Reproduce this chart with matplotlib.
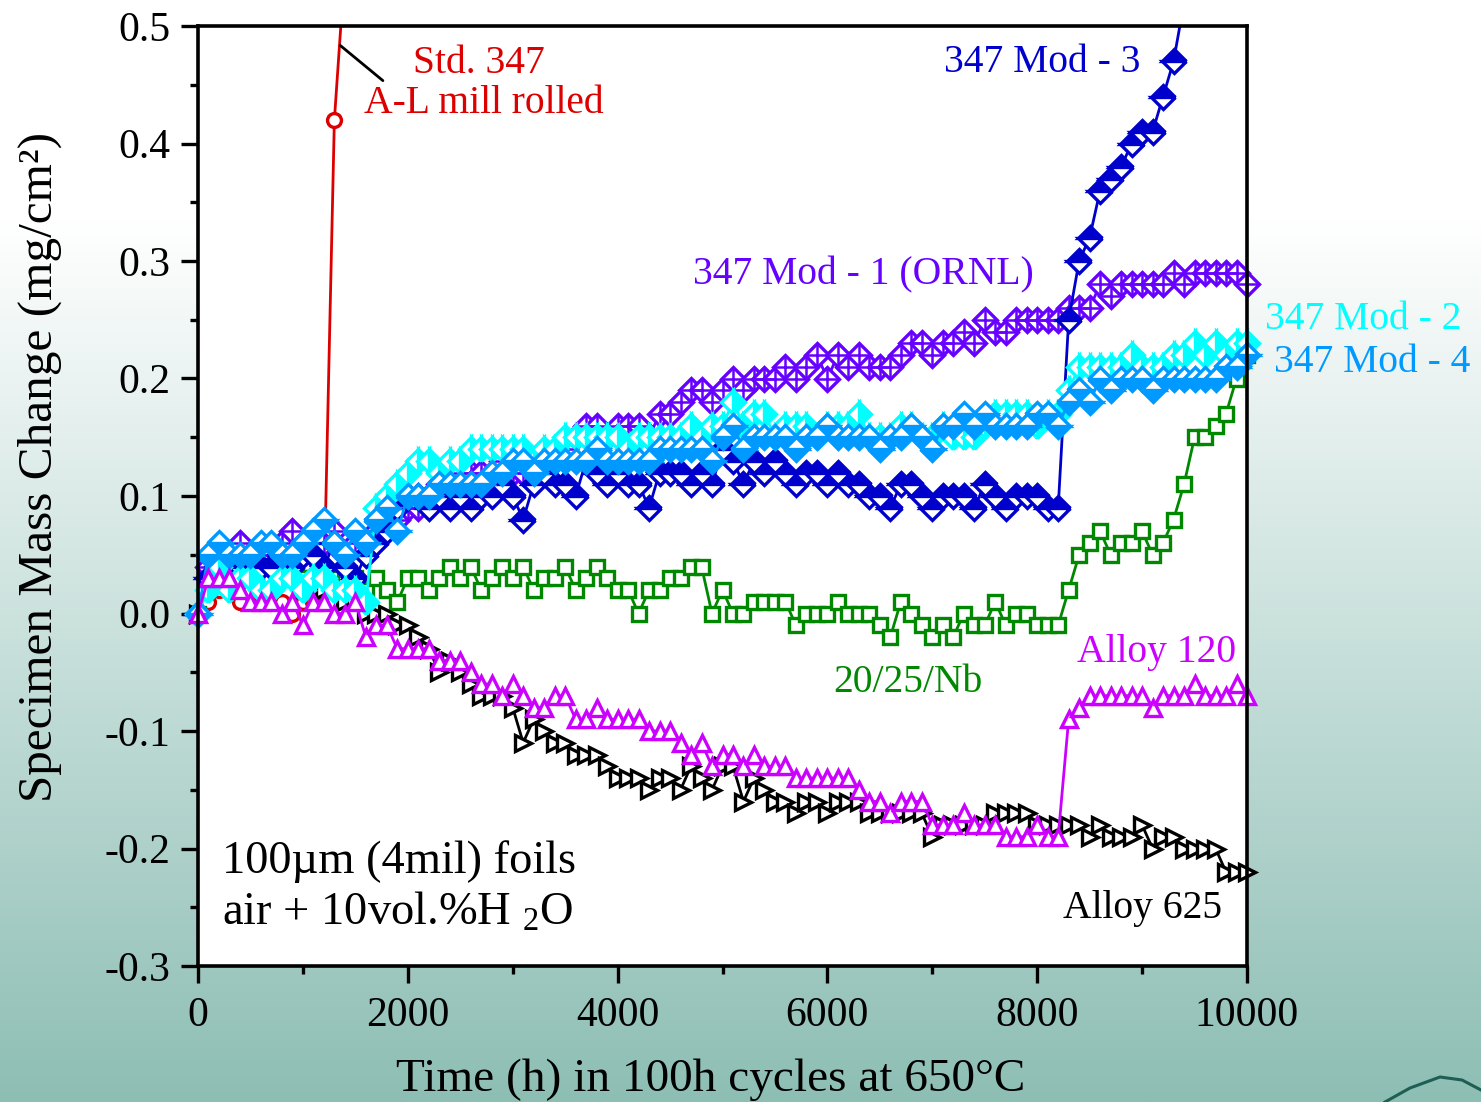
import numpy as np
import matplotlib
matplotlib.use("Agg")
import matplotlib.pyplot as plt
from matplotlib.patches import Rectangle
from matplotlib.lines import Line2D
from matplotlib.ticker import MultipleLocator

plt.rcParams['font.family'] = ['Liberation Serif', 'DejaVu Serif']
plt.rcParams['mathtext.fontset'] = 'custom'
plt.rcParams['mathtext.rm'] = 'Liberation Serif'
plt.rcParams['mathtext.default'] = 'regular'

# time grid: one reading per 100 h cycle
hours = np.arange(0, 10001, 100)

# mass change, mg/cm^2
std347 = [0.00, 0.01, 0.02, 0.02, 0.01, 0.02, 0.01, 0.02, 0.01, 0.00,
          0.01, 0.01, 0.02, 0.42, 0.55]

mod3 = [0.00, 0.03, 0.04, 0.04, 0.04, 0.05, 0.04, 0.04, 0.05, 0.04,
        0.05, 0.05, 0.04, 0.06, 0.04, 0.03, 0.05, 0.06, 0.07, 0.09,
        0.10, 0.10, 0.09, 0.10, 0.09, 0.10, 0.09, 0.10, 0.10, 0.11,
        0.10, 0.08, 0.11, 0.12, 0.11, 0.11, 0.10, 0.13, 0.12, 0.11,
        0.12, 0.11, 0.11, 0.09, 0.12, 0.12, 0.12, 0.11, 0.12, 0.11,
        0.14, 0.13, 0.11, 0.13, 0.12, 0.13, 0.12, 0.11, 0.12, 0.12,
        0.11, 0.12, 0.11, 0.11, 0.10, 0.10, 0.09, 0.11, 0.11, 0.10,
        0.09, 0.10, 0.10, 0.10, 0.09, 0.11, 0.10, 0.09, 0.10, 0.10,
        0.10, 0.09, 0.09, 0.25, 0.30, 0.32, 0.36, 0.37, 0.38, 0.40,
        0.41, 0.41, 0.44, 0.47, 0.52]

mod1 = [0.00, 0.04, 0.05, 0.05, 0.06, 0.05, 0.05, 0.05, 0.06, 0.07,
        0.06, 0.06, 0.06, 0.07, 0.05, 0.06, 0.06, 0.07, 0.08, 0.08,
        0.09, 0.09, 0.10, 0.11, 0.11, 0.12, 0.12, 0.12, 0.12, 0.13,
        0.12, 0.12, 0.12, 0.13, 0.13, 0.14, 0.15, 0.16, 0.16, 0.15,
        0.16, 0.16, 0.16, 0.15, 0.17, 0.17, 0.18, 0.19, 0.19, 0.18,
        0.19, 0.20, 0.19, 0.20, 0.20, 0.20, 0.21, 0.20, 0.21, 0.22,
        0.20, 0.22, 0.21, 0.22, 0.21, 0.21, 0.21, 0.22, 0.23, 0.23,
        0.22, 0.23, 0.23, 0.24, 0.23, 0.25, 0.24, 0.24, 0.25, 0.25,
        0.25, 0.25, 0.25, 0.26, 0.26, 0.26, 0.28, 0.27, 0.28, 0.28,
        0.28, 0.28, 0.28, 0.29, 0.28, 0.29, 0.29, 0.29, 0.29, 0.29,
        0.28]

mod2 = [0.00, 0.02, 0.04, 0.02, 0.03, 0.03, 0.02, 0.02, 0.03, 0.03,
        0.02, 0.03, 0.03, 0.02, 0.02, 0.02, 0.01, 0.09, 0.10, 0.11,
        0.12, 0.13, 0.13, 0.12, 0.13, 0.13, 0.14, 0.14, 0.14, 0.14,
        0.14, 0.14, 0.13, 0.14, 0.14, 0.15, 0.15, 0.15, 0.15, 0.15,
        0.15, 0.14, 0.15, 0.15, 0.15, 0.15, 0.15, 0.16, 0.15, 0.16,
        0.16, 0.18, 0.16, 0.17, 0.17, 0.15, 0.16, 0.16, 0.16, 0.15,
        0.16, 0.16, 0.16, 0.17, 0.15, 0.15, 0.15, 0.16, 0.16, 0.15,
        0.15, 0.16, 0.15, 0.15, 0.15, 0.16, 0.17, 0.17, 0.17, 0.17,
        0.16, 0.17, 0.17, 0.19, 0.21, 0.21, 0.21, 0.21, 0.21, 0.22,
        0.21, 0.21, 0.21, 0.22, 0.22, 0.23, 0.22, 0.23, 0.22, 0.23,
        0.23]

mod4 = [0.00, 0.05, 0.06, 0.05, 0.05, 0.05, 0.06, 0.06, 0.05, 0.05,
        0.06, 0.07, 0.08, 0.06, 0.05, 0.07, 0.06, 0.08, 0.09, 0.07,
        0.10, 0.10, 0.10, 0.11, 0.11, 0.11, 0.11, 0.11, 0.12, 0.12,
        0.13, 0.13, 0.12, 0.13, 0.13, 0.13, 0.13, 0.13, 0.14, 0.13,
        0.13, 0.13, 0.13, 0.13, 0.14, 0.14, 0.14, 0.14, 0.14, 0.13,
        0.15, 0.16, 0.14, 0.15, 0.15, 0.15, 0.15, 0.14, 0.15, 0.15,
        0.16, 0.15, 0.15, 0.15, 0.15, 0.14, 0.15, 0.15, 0.16, 0.15,
        0.14, 0.16, 0.16, 0.17, 0.16, 0.17, 0.16, 0.16, 0.16, 0.16,
        0.17, 0.17, 0.16, 0.18, 0.19, 0.18, 0.20, 0.19, 0.20, 0.20,
        0.20, 0.19, 0.20, 0.20, 0.20, 0.20, 0.20, 0.20, 0.21, 0.21,
        0.22]

nb2025 = [0.00, 0.03, 0.04, 0.04, 0.04, 0.03, 0.04, 0.04, 0.03, 0.03,
          0.03, 0.03, 0.02, 0.03, 0.03, 0.03, 0.02, 0.03, 0.02, 0.01,
          0.03, 0.03, 0.02, 0.03, 0.04, 0.03, 0.04, 0.02, 0.03, 0.04,
          0.03, 0.04, 0.02, 0.03, 0.03, 0.04, 0.02, 0.03, 0.04, 0.03,
          0.02, 0.02, 0.00, 0.02, 0.02, 0.03, 0.03, 0.04, 0.04, 0.00,
          0.02, 0.00, 0.00, 0.01, 0.01, 0.01, 0.01, -0.01, 0.00, 0.00,
          0.00, 0.01, 0.00, 0.00, 0.00, -0.01, -0.02, 0.01, 0.00, -0.01,
          -0.02, -0.01, -0.02, 0.00, -0.01, -0.01, 0.01, -0.01, 0.00, 0.00,
          -0.01, -0.01, -0.01, 0.02, 0.05, 0.06, 0.07, 0.05, 0.06, 0.06,
          0.07, 0.05, 0.06, 0.08, 0.11, 0.15, 0.15, 0.16, 0.17, 0.20,
          0.22]

alloy120 = [0.00, 0.03, 0.03, 0.03, 0.02, 0.01, 0.01, 0.01, 0.00, 0.01,
            -0.01, 0.01, 0.01, 0.00, 0.00, 0.01, -0.02, -0.01, -0.01, -0.03,
            -0.03, -0.03, -0.03, -0.04, -0.04, -0.04, -0.05, -0.06, -0.06, -0.07,
            -0.06, -0.07, -0.08, -0.08, -0.07, -0.07, -0.09, -0.09, -0.08, -0.09,
            -0.09, -0.09, -0.09, -0.10, -0.10, -0.10, -0.11, -0.12, -0.11, -0.13,
            -0.12, -0.12, -0.13, -0.12, -0.13, -0.13, -0.13, -0.14, -0.14, -0.14,
            -0.14, -0.14, -0.14, -0.15, -0.16, -0.16, -0.17, -0.16, -0.16, -0.16,
            -0.18, -0.18, -0.18, -0.17, -0.18, -0.18, -0.18, -0.19, -0.19, -0.19,
            -0.18, -0.19, -0.19, -0.09, -0.08, -0.07, -0.07, -0.07, -0.07, -0.07,
            -0.07, -0.08, -0.07, -0.07, -0.07, -0.06, -0.07, -0.07, -0.07, -0.06,
            -0.07]

alloy625 = [0.00, 0.03, 0.04, 0.04, 0.04, 0.03, 0.03, 0.03, 0.03, 0.03,
            0.02, 0.02, 0.02, 0.02, 0.01, 0.01, 0.00, 0.00, 0.00, -0.01,
            -0.01, -0.02, -0.03, -0.05, -0.04, -0.05, -0.06, -0.07, -0.07, -0.07,
            -0.08, -0.11, -0.09, -0.10, -0.11, -0.11, -0.12, -0.12, -0.12, -0.13,
            -0.14, -0.14, -0.14, -0.15, -0.14, -0.14, -0.15, -0.13, -0.14, -0.15,
            -0.13, -0.13, -0.16, -0.14, -0.15, -0.16, -0.16, -0.17, -0.16, -0.16,
            -0.17, -0.16, -0.16, -0.16, -0.17, -0.17, -0.17, -0.17, -0.17, -0.17,
            -0.19, -0.18, -0.18, -0.18, -0.18, -0.18, -0.17, -0.17, -0.17, -0.17,
            -0.18, -0.18, -0.18, -0.18, -0.18, -0.19, -0.18, -0.19, -0.19, -0.19,
            -0.18, -0.20, -0.19, -0.19, -0.20, -0.20, -0.20, -0.20, -0.22, -0.22,
            -0.22]

RED = '#DD0000'
BLUE3 = '#0000CC'
PURPLE = '#6600FF'
CYAN = '#00FFFF'
BLUE4 = '#0099FF'
GREEN = '#008800'
MAGENTA = '#CC00FF'

fig = plt.figure(figsize=(14.81, 11.02), dpi=100)

# slide background: white at the top fading to teal
bg = fig.add_axes([0, 0, 1, 1], zorder=-10)
rows = np.linspace(0, 1, 400)[:, None]
frac = np.clip((rows - 0.2) / 0.8, 0, 1)
top_c = np.array([1.0, 1.0, 1.0])
bot_c = np.array([141, 190, 180]) / 255
grad = top_c[None, None, :] * (1 - frac[..., None]) + bot_c[None, None, :] * frac[..., None]
grad = np.repeat(grad, 2, axis=1)
bg.imshow(grad, aspect='auto', extent=[0, 1, 0, 1], origin='upper')
bg.axis('off')

# small logo swoosh in the corner
fig.add_artist(Line2D([1385/1481, 1410/1481, 1440/1481, 1462/1481, 1481/1481],
                      [0.0, 1-1088/1102, 1-1077/1102, 1-1080/1102, 1-1090/1102],
                      color='#1F5E54', lw=2.2, transform=fig.transFigure))

ax = fig.add_axes([198/1481, 1-966/1102, (1247-198)/1481, (966-26)/1102])
ax.set_facecolor('white')

clip_box = Rectangle((-600, -0.35), 11500, 0.85, transform=ax.transData)

lw = 2.0
mew = 2.4
dms = 12

l, = ax.plot(hours[:len(std347)], std347, color=RED, lw=lw, marker='o', ms=10,
             mfc='white', mec=RED, mew=mew, clip_on=True)
l.set_clip_path(clip_box)

ax.plot(hours, nb2025, color=GREEN, lw=lw, marker='s', ms=10, mfc='white',
        mec=GREEN, mew=mew, clip_on=False)
ax.plot(hours, alloy625, color='black', lw=lw, marker='>', ms=11.5, mfc='white',
        mec='black', mew=mew, clip_on=False)

ax.plot(hours, mod1, color=PURPLE, lw=lw, marker='D', ms=dms, mfc='white',
        mec=PURPLE, mew=mew, clip_on=False)
ax.plot(hours, mod1, ls='none', marker='+', ms=16, mew=1.8, color=PURPLE, clip_on=False)

l, = ax.plot(hours[:len(mod3)], mod3, color=BLUE3, lw=lw, marker='D', ms=dms,
             fillstyle='top', mfc=BLUE3, mfcalt='white', mec=BLUE3, mew=mew)
l.set_clip_path(clip_box)

ax.plot(hours, mod2, color=CYAN, lw=lw, marker='D', ms=dms, fillstyle='right',
        mfc=CYAN, mfcalt='white', mec=CYAN, mew=mew, clip_on=False)
ax.plot(hours, mod4, color=BLUE4, lw=lw, marker='D', ms=dms, fillstyle='bottom',
        mfc=BLUE4, mfcalt='white', mec=BLUE4, mew=mew, clip_on=False)

ax.plot(hours, alloy120, color=MAGENTA, lw=lw, marker='^', ms=11.5, mfc='white',
        mec=MAGENTA, mew=mew, clip_on=False)

ax.set_xlim(0, 10000)
ax.set_ylim(-0.3, 0.5)
ax.xaxis.set_major_locator(MultipleLocator(2000))
ax.xaxis.set_minor_locator(MultipleLocator(1000))
ax.yaxis.set_major_locator(MultipleLocator(0.1))
ax.yaxis.set_minor_locator(MultipleLocator(0.05))
ax.yaxis.set_major_formatter(plt.FuncFormatter(lambda v, p: f'{v:.1f}'))
ax.tick_params(which='both', direction='out', width=2.4, top=False, right=False,
               labelsize=30)
ax.tick_params(axis='x', pad=10)
ax.tick_params(axis='y', pad=8)
ax.tick_params(which='major', length=12)
ax.tick_params(which='minor', length=6)
for sp in ax.spines.values():
    sp.set_linewidth(2.6)

fs = 28.5
ax.text(2050, 0.468, 'Std. 347', color=RED, fontsize=fs, va='center', ha='left')
ax.text(1582, 0.434, 'A-L mill rolled', color=RED, fontsize=fs, va='center', ha='left')
ax.annotate('', xy=(1335, 0.485), xytext=(1783, 0.452),
            arrowprops=dict(arrowstyle='-', color='black', lw=2))
ax.text(7112, 0.469, '347 Mod - 3', color=BLUE3, fontsize=fs, va='center', ha='left')
ax.text(4719, 0.288, '347 Mod - 1 (ORNL)', color=PURPLE, fontsize=fs, va='center', ha='left')
ax.text(10172, 0.250, '347 Mod - 2', color=CYAN, fontsize=fs, va='center', ha='left',
        clip_on=False)
ax.text(10257, 0.214, '347 Mod - 4', color=BLUE4, fontsize=fs, va='center', ha='left',
        clip_on=False)
ax.text(6053, -0.059, '20/25/Nb', color=GREEN, fontsize=fs, va='center', ha='left')
ax.text(8379, -0.033, 'Alloy 120', color=MAGENTA, fontsize=fs, va='center', ha='left')
ax.text(8246, -0.251, 'Alloy 625', color='black', fontsize=fs, va='center', ha='left')
ax.text(229, -0.2115, '100µm (4mil) foils', color='black', fontsize=33.5, va='center', ha='left')
ax.text(229, -0.255, 'air + 10vol.%H $_{2}$O', color='black', fontsize=33.5, va='center', ha='left')

fig.text(711/1481, 1-1080/1102, 'Time (h) in 100h cycles at 650°C', fontsize=34,
         ha='center', va='center')
fig.text(40/1481, 1-467/1102, 'Specimen Mass Change (mg/cm²)', fontsize=35.5,
         ha='center', va='center', rotation=90)

fig.savefig('out.png', dpi=100)
